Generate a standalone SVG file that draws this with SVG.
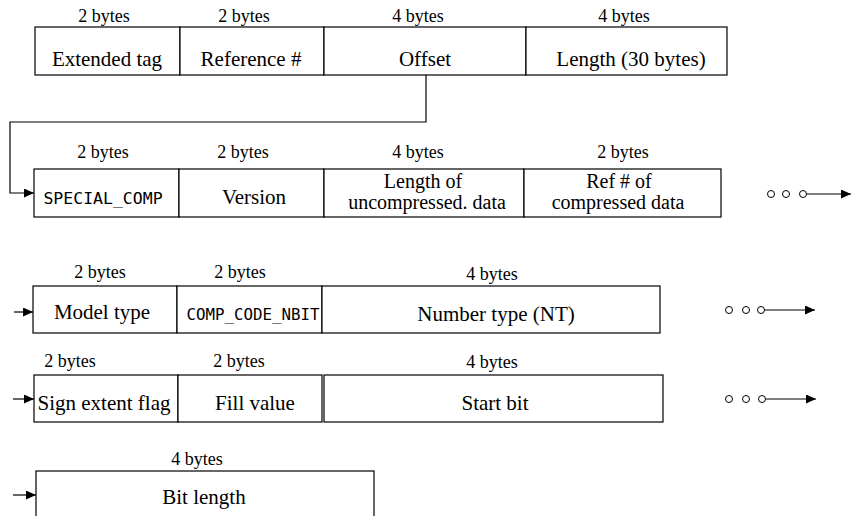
<svg xmlns="http://www.w3.org/2000/svg" width="851" height="516" viewBox="0 0 851 516">
<defs>
<marker id="ah" markerUnits="userSpaceOnUse" markerWidth="10" markerHeight="9" refX="10" refY="4.5" orient="auto">
<path d="M0,0 L10,4.5 L0,9 z" fill="#000"/>
</marker>
<style>
.box{fill:#fff;stroke:#000;stroke-width:1.2}
.lab{font-family:"Liberation Serif","Times New Roman",serif;font-size:21px;fill:#000;text-anchor:middle}
.two{font-size:20px}
.sz{font-family:"Liberation Serif","Times New Roman",serif;font-size:18px;fill:#000;text-anchor:middle}
.mono{font-family:"DejaVu Sans Mono",monospace;fill:#000;text-anchor:middle}
.ln{fill:none;stroke:#000;stroke-width:1.2}
.dot{fill:#fff;stroke:#000;stroke-width:1}
</style>
</defs>

<g id="row1">
<g id="extended-tag"><rect class="box" x="35" y="27" width="145" height="48"/><text class="sz" x="104" y="22">2 bytes</text><text class="lab" x="107" y="66">Extended tag</text></g>
<g id="reference"><rect class="box" x="180" y="27" width="144" height="48"/><text class="sz" x="244" y="22">2 bytes</text><text class="lab" x="251" y="66">Reference #</text></g>
<g id="offset"><rect class="box" x="324" y="27" width="202" height="48"/><text class="sz" x="418" y="22">4 bytes</text><text class="lab" x="425" y="66">Offset</text></g>
<g id="length"><rect class="box" x="526" y="27" width="201" height="48"/><text class="sz" x="624" y="22">4 bytes</text><text class="lab" x="631" y="66">Length (30 bytes)</text></g>
</g>

<g id="row2">
<g id="special-comp"><rect class="box" x="34" y="169" width="145" height="48"/><text class="sz" x="103" y="158">2 bytes</text><text class="mono" x="103" y="204" font-size="16.5">SPECIAL_COMP</text></g>
<g id="version"><rect class="box" x="179" y="169" width="145" height="48"/><text class="sz" x="243" y="158">2 bytes</text><text class="lab" x="254" y="204">Version</text></g>
<g id="length-uncomp"><rect class="box" x="324" y="169" width="200" height="48"/><text class="sz" x="418" y="158">4 bytes</text><text class="lab two" x="423" y="188">Length of</text><text class="lab two" x="427" y="209">uncompressed. data</text></g>
<g id="ref-comp"><rect class="box" x="524" y="169" width="197" height="48"/><text class="sz" x="623" y="158">2 bytes</text><text class="lab two" x="619" y="188">Ref # of</text><text class="lab two" x="618" y="209">compressed data</text></g>
</g>

<g id="row3">
<g id="model-type"><rect class="box" x="33" y="286" width="144" height="47"/><text class="sz" x="100" y="278">2 bytes</text><text class="lab" x="102" y="319">Model type</text></g>
<g id="comp-code-nbit"><rect class="box" x="177" y="286" width="145" height="47"/><text class="sz" x="240" y="278">2 bytes</text><text class="mono" x="253" y="320" font-size="15.8">COMP_CODE_NBIT</text></g>
<g id="number-type"><rect class="box" x="322" y="286" width="338" height="47"/><text class="sz" x="492" y="280">4 bytes</text><text class="lab" x="496" y="321">Number type (NT)</text></g>
</g>

<g id="row4">
<g id="sign-extent"><rect class="box" x="34" y="375" width="144" height="47"/><text class="sz" x="70" y="367">2 bytes</text><text class="lab" x="104" y="410">Sign extent flag</text></g>
<g id="fill-value"><rect class="box" x="178" y="375" width="144" height="47"/><text class="sz" x="239" y="367">2 bytes</text><text class="lab" x="255" y="410">Fill value</text></g>
<g id="start-bit"><rect class="box" x="324" y="375" width="339" height="47"/><text class="sz" x="492" y="368">4 bytes</text><text class="lab" x="495" y="410">Start bit</text></g>
</g>

<g id="row5">
<g id="bit-length"><rect class="box" x="36" y="471" width="338" height="60"/><text class="sz" x="197" y="465">4 bytes</text><text class="lab" x="204" y="504">Bit length</text></g>
</g>

<g id="connectors">
<polyline class="ln" points="426,75 426,122 10,122 10,193 34,193" marker-end="url(#ah)"/>
<line class="ln" x1="14" y1="312" x2="33" y2="312" marker-end="url(#ah)"/>
<line class="ln" x1="13" y1="399" x2="34" y2="399" marker-end="url(#ah)"/>
<line class="ln" x1="13" y1="495" x2="36" y2="495" marker-end="url(#ah)"/>
<g id="more-row2"><circle class="dot" cx="771" cy="194" r="3.5"/><circle class="dot" cx="786" cy="194" r="3.5"/><circle class="dot" cx="803" cy="194" r="3.5"/><line class="ln" x1="807" y1="194" x2="851" y2="194" marker-end="url(#ah)"/></g>
<g id="more-row3"><circle class="dot" cx="729" cy="310" r="3.5"/><circle class="dot" cx="746" cy="310" r="3.5"/><circle class="dot" cx="761" cy="310" r="3.5"/><line class="ln" x1="765" y1="310" x2="815" y2="310" marker-end="url(#ah)"/></g>
<g id="more-row4"><circle class="dot" cx="729" cy="399" r="3.5"/><circle class="dot" cx="746" cy="399" r="3.5"/><circle class="dot" cx="762" cy="399" r="3.5"/><line class="ln" x1="766" y1="399" x2="816" y2="399" marker-end="url(#ah)"/></g>
</g>
</svg>
